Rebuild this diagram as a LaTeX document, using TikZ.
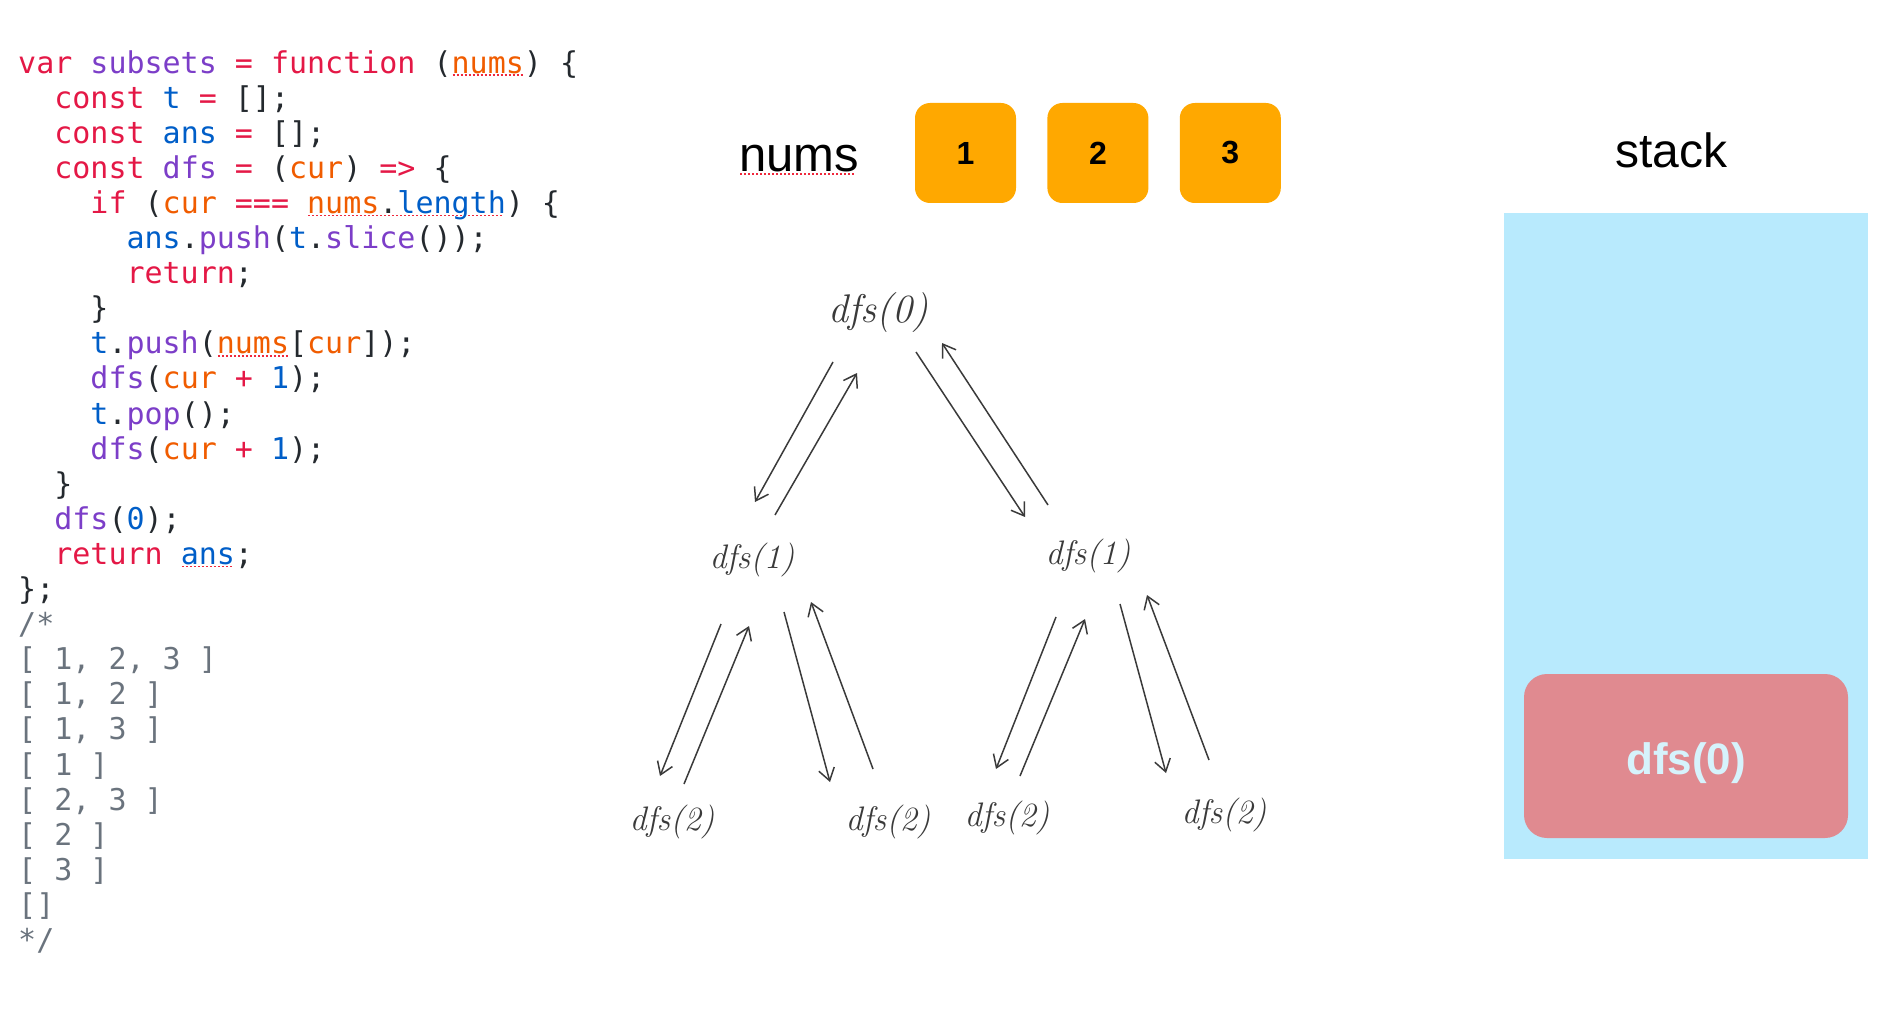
\documentclass[tikz,border=0pt]{standalone}
\usepackage{fontspec}
\newfontfamily\codefont{DejaVu Sans Mono}
\newfontfamily\labelfont{Liberation Sans}
\usetikzlibrary{arrows.meta,positioning}

\definecolor{kwred}{RGB}{228,24,70}
\definecolor{fnpurple}{RGB}{124,62,200}
\definecolor{varorange}{RGB}{240,92,0}
\definecolor{constblue}{RGB}{0,94,200}
\definecolor{punct}{RGB}{36,41,46}
\definecolor{cmtgray}{RGB}{106,115,125}
\definecolor{spellred}{RGB}{240,40,60}
\definecolor{numorange}{RGB}{255,168,0}
\definecolor{stackblue}{RGB}{184,234,253}
\definecolor{framepink}{RGB}{224,138,144}
\definecolor{framelabel}{RGB}{214,243,252}
\definecolor{pen}{RGB}{58,58,58}

\newcommand\jkw[1]{\textcolor{kwred}{#1}}
\newcommand\jfn[1]{\textcolor{fnpurple}{#1}}
\newcommand\jvar[1]{\textcolor{varorange}{#1}}
\newcommand\jnum[1]{\textcolor{constblue}{#1}}
\newcommand\jcmt[1]{\textcolor{cmtgray}{#1}}
% dotted spell-check underline
\newcommand\spell[1]{\setbox0\hbox{#1}\rlap{\hbox to\wd0{\color{spellred}\leaders\hbox to 4pt{\hss\rule[-3pt]{2pt}{1.6pt}\hss}\hfill}}#1}

\tikzset{
  code/.style={anchor=base west,align=left,inner sep=0pt,text=punct,
    font=\codefont\fontsize{30}{35.1}\selectfont},
  title/.style={anchor=base,inner sep=0pt,font=\labelfont\fontsize{49}{49}\selectfont},
  num/.style={fill=numorange,rounded corners=15pt,minimum width=101pt,minimum height=100pt,
    inner sep=0pt,font=\labelfont\bfseries\fontsize{32}{32}\selectfont},
  hand/.style={text=pen,inner sep=0pt,font=\itshape\fontsize{34}{34}\selectfont},
  conn/.style={draw=pen,line width=1.5pt,->},
}

\begin{document}
\begin{tikzpicture}[x=1pt,y=-1pt,>={Straight Barb[length=12pt,width=16pt]}]
  \useasboundingbox (0,0) rectangle (1878,1016);

  % base anchor = last line of the listing
  \node[code] (code) at (18,950.5) {%
\jkw{var} \jfn{subsets} \jkw{=} \jkw{function} (\spell{\jvar{nums}}) \{\\
~~\jkw{const} \jnum{t} \jkw{=} [];\\
~~\jkw{const} \jnum{ans} \jkw{=} [];\\
~~\jkw{const} \jfn{dfs} \jkw{=} (\jvar{cur}) \jkw{=>} \{\\
~~~~\jkw{if} (\jvar{cur} \jkw{===} \spell{\jvar{nums}.\jnum{length}}) \{\\
~~~~~~\jnum{ans}.\jfn{push}(\jnum{t}.\jfn{slice}());\\
~~~~~~\jkw{return};\\
~~~~\}\\
~~~~\jnum{t}.\jfn{push}(\spell{\jvar{nums}}[\jvar{cur}]);\\
~~~~\jfn{dfs}(\jvar{cur} \jkw{+} \jnum{1});\\
~~~~\jnum{t}.\jfn{pop}();\\
~~~~\jfn{dfs}(\jvar{cur} \jkw{+} \jnum{1});\\
~~\}\\
~~\jfn{dfs}(\jnum{0});\\
~~\jkw{return} \spell{\jnum{ans}};\\
\};\\
\jcmt{/*}\\
\jcmt{[ 1, 2, 3 ]}\\
\jcmt{[ 1, 2 ]}\\
\jcmt{[ 1, 3 ]}\\
\jcmt{[ 1 ]}\\
\jcmt{[ 2, 3 ]}\\
\jcmt{[ 2 ]}\\
\jcmt{[ 3 ]}\\
\jcmt{[]}\\
\jcmt{*/}};

  \node[title] (nums) at (799,172) {\spell{nums}};
  \node[num] (n1) at (965.5,153) {1};
  \node[num, right=31pt of n1] (n2) {2};
  \node[num, right=31pt of n2] (n3) {3};

  \node[title,font=\labelfont\fontsize{48}{48}\selectfont] (stack) at (1671,168) {stack};
  \node[fill=stackblue,anchor=north west,inner sep=0pt,minimum width=364pt,minimum height=646pt] (stackbox) at (1504,213) {};
  \node[fill=framepink,rounded corners=23pt,minimum width=324pt,minimum height=164pt,inner sep=0pt,
    text=framelabel,text height=36pt,text depth=0pt,font=\labelfont\bfseries\fontsize{44}{44}\selectfont] (frame) at (1686,756) {dfs(0)};

  % recursion tree
  \node[hand,font=\itshape\fontsize{40}{40}\selectfont] (r) at (878,313) {dfs(0)};
  \node[hand] (a) at (752,560) {dfs(1)};
  \node[hand] (b) at (1088,556) {dfs(1)};
  \node[hand] (c1) at (672,822) {dfs(2)};
  \node[hand] (c2) at (888,822) {dfs(2)};
  \node[hand] (c3) at (1007,818) {dfs(2)};
  \node[hand] (c4) at (1224,815) {dfs(2)};

  \draw[conn] ([shift={(-45,49)}]r.center) -- ([shift={(3,-58)}]a.center);
  \draw[conn] ([shift={(23,-45)}]a.center) -- ([shift={(-21,60)}]r.center);
  \draw[conn] ([shift={(38,39)}]r.center) -- ([shift={(-63,-39)}]b.center);
  \draw[conn] ([shift={(-40,-51)}]b.center) -- ([shift={(64,30)}]r.center);

  \draw[conn] ([shift={(-31,64)}]a.center) -- ([shift={(-12,-46)}]c1.center);
  \draw[conn] ([shift={(12,-38)}]c1.center) -- ([shift={(-3,66)}]a.center);
  \draw[conn] ([shift={(32,52)}]a.center) -- ([shift={(-58,-40)}]c2.center);
  \draw[conn] ([shift={(-15,-53)}]c2.center) -- ([shift={(59,42)}]a.center);

  \draw[conn] ([shift={(-32,61)}]b.center) -- ([shift={(-11,-49)}]c3.center);
  \draw[conn] ([shift={(13,-42)}]c3.center) -- ([shift={(-3,63)}]b.center);
  \draw[conn] ([shift={(32,48)}]b.center) -- ([shift={(-58,-42)}]c4.center);
  \draw[conn] ([shift={(-15,-55)}]c4.center) -- ([shift={(59,39)}]b.center);
\end{tikzpicture}
\end{document}
